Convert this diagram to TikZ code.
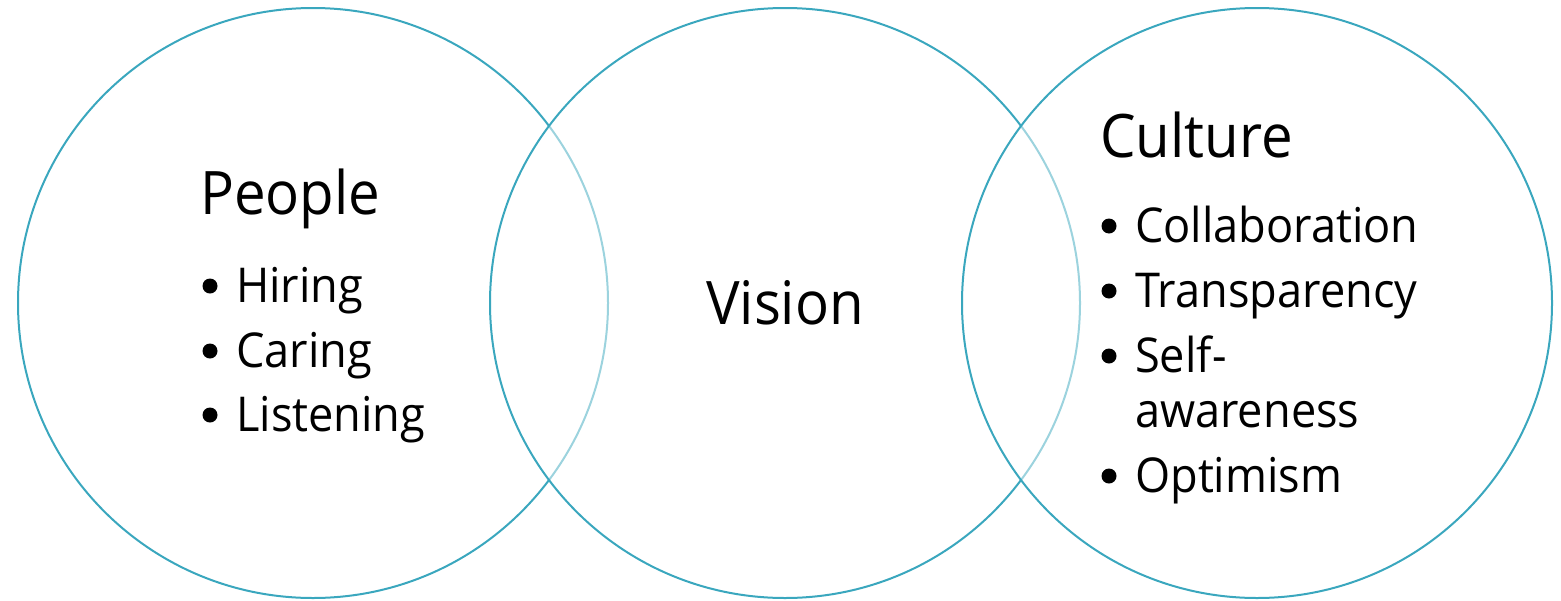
\documentclass[tikz,border=0pt]{standalone}
\usepackage{fontspec}
\setmainfont{Open Sans}[FakeStretch=0.94]
\definecolor{ring}{RGB}{58,167,190}
\tikzset{
  ring/.style={draw=ring, line width=2pt, fill=white, fill opacity=0.5},
  title/.style={anchor=base west, inner sep=0pt, font=\fontsize{60}{66}\selectfont},
  item/.style={anchor=base west, inner sep=0pt, font=\fontsize{48}{54}\selectfont},
  dot/.style={circle, fill=black, inner sep=0pt, minimum size=15pt}
}
\begin{document}
\begin{tikzpicture}[x=1pt,y=-1pt]
\useasboundingbox (0,0) rectangle (1561,600);
\draw[ring] (313,303) circle[radius=295];
\draw[ring] (785,303) circle[radius=295];
\draw[ring] (1257,303) circle[radius=295];
% left
\node[title] (people) at (200,214) {People};
\node[item] (hiring) at (236,302) {Hiring};
\node[item] (caring) at (236,367) {Caring};
\node[item] (listening) at (236,431) {Listening};
\node[dot] (b1) at (210,286) {};
\node[dot] (b2) at (210,351) {};
\node[dot] (b3) at (210,415) {};
% middle
\node[title] (vision) at (706,324) {Vision};
% right
\node[title] (culture) at (1100,157) {Culture};
\node[item] (collab) at (1135,242) {Collaboration};
\node[item] (transp) at (1135,307) {Transparency};
\node[item] (self) at (1135,372) {Self-};
\node[item] (aware) at (1135,427) {awareness};
\node[item] (optim) at (1135,492) {Optimism};
\node[dot] (c1) at (1109,226) {};
\node[dot] (c2) at (1109,291) {};
\node[dot] (c3) at (1109,356) {};
\node[dot] (c4) at (1109,476) {};
\end{tikzpicture}
\end{document}
